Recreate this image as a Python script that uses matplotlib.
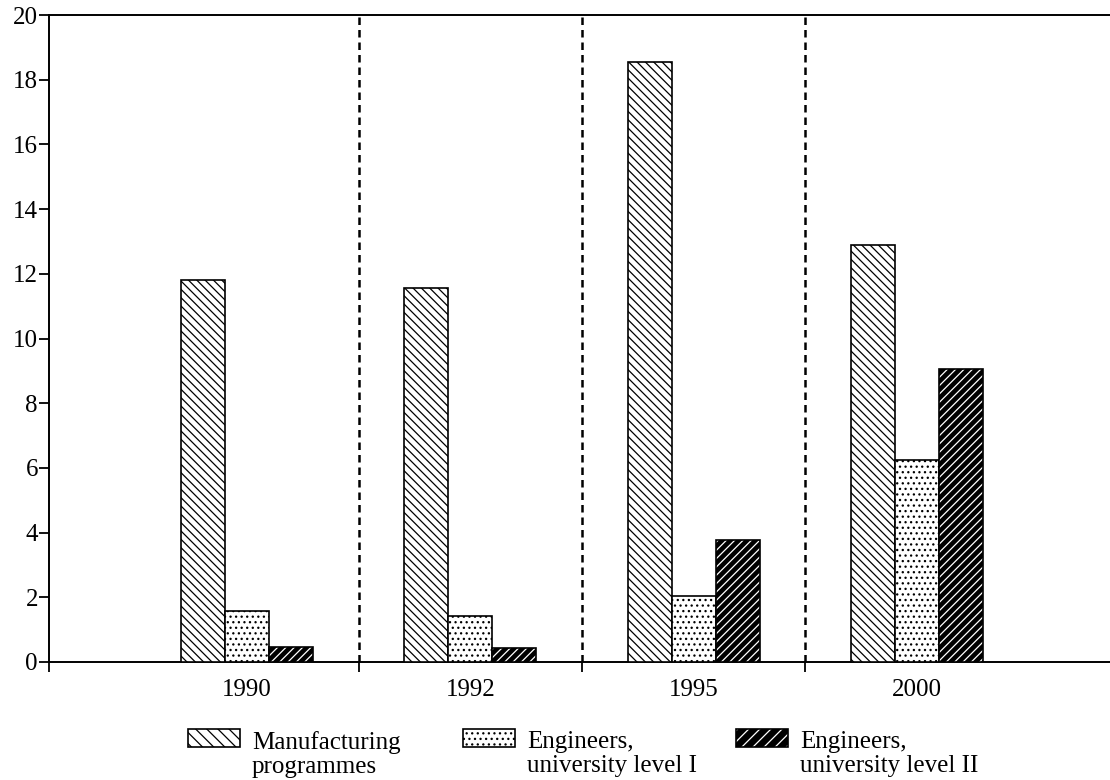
import matplotlib
matplotlib.use("Agg")
import matplotlib.pyplot as plt
from matplotlib.patches import Rectangle
import numpy as np

# Data
years = ["1990", "1992", "1995", "2000"]
manufacturing = [11.8, 11.55, 18.55, 12.9]
eng_level1 = [1.58, 1.42, 2.05, 6.25]
eng_level2 = [0.47, 0.43, 3.78, 9.05]

series_labels = ["Manufacturing\nprogrammes",
                 "Engineers,\nuniversity level I",
                 "Engineers,\nuniversity level II"]

plt.rcParams['font.family'] = ['Liberation Serif', 'DejaVu Serif']
plt.rcParams['hatch.linewidth'] = 0.9

fig = plt.figure(figsize=(11.1, 7.8), dpi=100)
ax = fig.add_axes([49 / 1110, 1 - 662 / 780, 1 - 49 / 1110, (662 - 15) / 780])

x = np.arange(len(years))
w = 0.197
lw = 1.2
back = '\\' * 4
fwd = '/' * 4

# Manufacturing: white with backslash hatch
ax.bar(x - w, manufacturing, w, color='white', edgecolor='black',
       hatch=back, linewidth=lw, zorder=3)
# Level I: white with dots
ax.bar(x, eng_level1, w, color='white', edgecolor='black',
       hatch='...', linewidth=lw, zorder=3)
# Level II: black with white hatch, then a black outline on top
ax.bar(x + w, eng_level2, w, color='black', edgecolor='white',
       hatch=fwd, linewidth=0, zorder=3)
ax.bar(x + w, eng_level2, w, fill=False, edgecolor='black',
       linewidth=lw, zorder=4)

# dashed separators between years
ax.vlines(x[:-1] + 0.5, 0, 20, colors='black', linestyles=(0, (3, 2)),
          linewidth=1.8, zorder=2)

ax.set_xlim(-0.887, 3.865)
ax.set_ylim(0, 20)
ax.set_yticks(np.arange(0, 21, 2))
ax.tick_params(axis='y', direction='out', length=7, width=1.3, pad=1,
               labelsize=18)

ax.set_xticks([-0.887] + list(x[:-1] + 0.5))
ax.set_xticklabels([])
ax.tick_params(axis='x', which='major', direction='out', length=7, width=1.3)
ax.set_xticks(x, minor=True)
ax.set_xticklabels(years, minor=True)
ax.tick_params(axis='x', which='minor', length=0, pad=12, labelsize=18)

ax.spines['right'].set_visible(False)
for s in ['left', 'top', 'bottom']:
    ax.spines[s].set_linewidth(1.4)

# legend drawn below the axes
leg_x = [188, 463, 736]
styles = [dict(fc='white', hatch='\\\\\\'),
          dict(fc='white', hatch='...'),
          dict(fc='black', hatch='///')]
for lx, st, lab in zip(leg_x, styles, series_labels):
    fx, fy = lx / 1110, 1 - 747 / 780
    fw, fh = 52 / 1110, 18 / 780
    if st['fc'] == 'black':
        fig.add_artist(Rectangle((fx, fy), fw, fh, transform=fig.transFigure,
                                 facecolor='black', edgecolor='white',
                                 hatch=st['hatch'], linewidth=0))
        fig.add_artist(Rectangle((fx, fy), fw, fh, transform=fig.transFigure,
                                 fill=False, edgecolor='black', linewidth=lw))
    else:
        fig.add_artist(Rectangle((fx, fy), fw, fh, transform=fig.transFigure,
                                 facecolor='white', edgecolor='black',
                                 hatch=st['hatch'], linewidth=lw))
    fig.text((lx + 64) / 1110, 1 - 731 / 780, lab, fontsize=18,
             va='top', ha='left', linespacing=1.1)

fig.savefig("out.png", dpi=100)
